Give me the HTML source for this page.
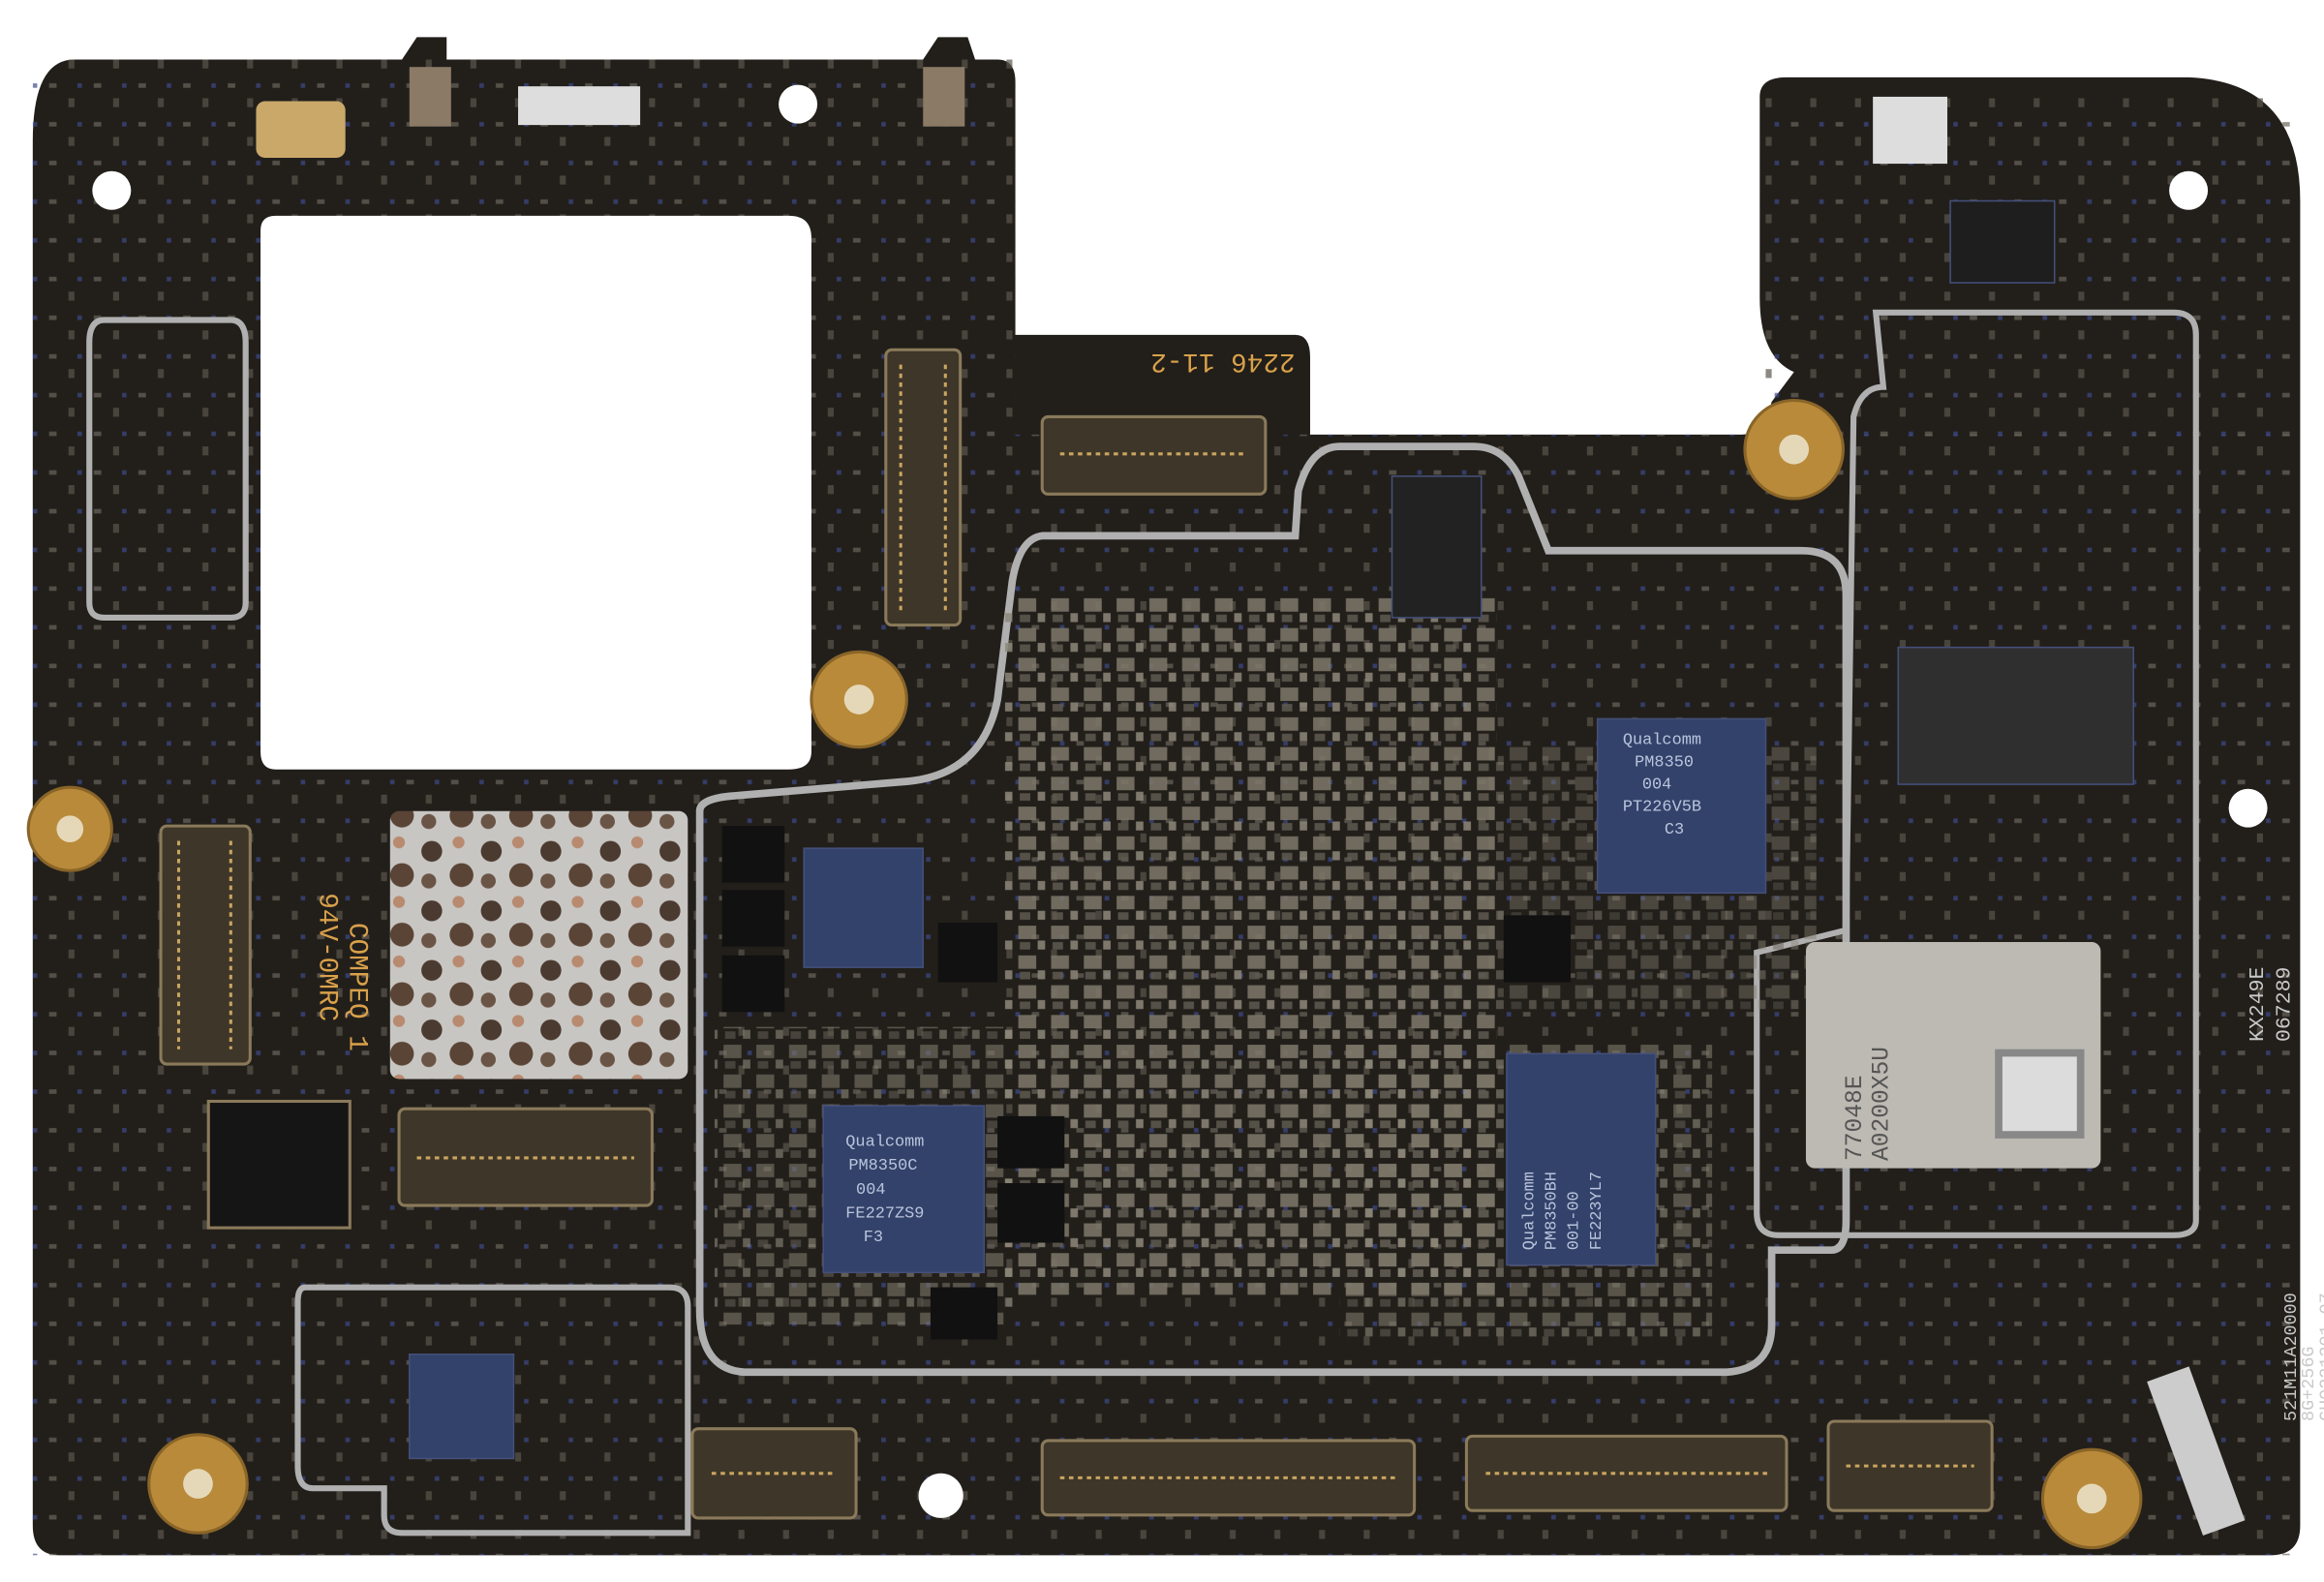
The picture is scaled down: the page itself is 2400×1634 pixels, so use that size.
<!DOCTYPE html>
<html><head><meta charset="utf-8"><style>html,body{margin:0;padding:0;background:#fff;width:2400px;height:1634px;overflow:hidden}svg{display:block}</style></head>
<body>
<svg width="2400" height="1634" viewBox="0 0 1561 1063" preserveAspectRatio="none" xmlns="http://www.w3.org/2000/svg" font-family="Liberation Mono, monospace">
<defs>
<pattern id="comp" width="22" height="20" patternUnits="userSpaceOnUse">
<rect x="2" y="2" width="12" height="9" fill="#7e786a"/><rect x="15" y="12" width="5" height="6" fill="#8e887a"/><rect x="3" y="13" width="7" height="5" fill="#5f5a50"/>
</pattern>
<pattern id="small" width="30" height="26" patternUnits="userSpaceOnUse">
<rect x="3" y="4" width="5" height="3" fill="#6a655c"/><rect x="16" y="14" width="4" height="6" fill="#5a554c"/><rect x="22" y="4" width="3" height="3" fill="#3d4a8a"/>
</pattern>
<pattern id="mottle" width="40" height="40" patternUnits="userSpaceOnUse">
<rect width="40" height="40" fill="#c8c6c2"/><circle cx="10" cy="12" r="7" fill="#4a3a30"/><circle cx="30" cy="28" r="8" fill="#5a4436"/><circle cx="28" cy="6" r="4" fill="#b88a70"/><circle cx="8" cy="32" r="5" fill="#6a5446"/>
</pattern>
</defs>
<rect width="1561" height="1063" fill="#fff"/>
<path d="M50,40 L270,40 L280,25 L300,25 L300,40 L620,40 L630,25 L650,25 L655,40 L670,40 Q682,40 682,55 L682,225 L870,225 Q880,225 880,240 L880,292 L1170,292 Q1185,292 1190,270 L1205,250 Q1182,240 1182,200 L1182,65 Q1182,52 1200,52 L1470,52 Q1545,55 1545,135 L1545,1025 Q1545,1045 1525,1045 L40,1045 Q22,1045 22,1025 L22,95 Q22,40 50,40 Z" fill="#221f1b"/>
<rect x="22" y="40" width="660" height="1005" fill="url(#small)" opacity="0.7"/>
<rect x="682" y="292" width="863" height="753" fill="url(#small)" opacity="0.7"/>
<rect x="1182" y="60" width="363" height="240" fill="url(#small)" opacity="0.7"/>
<path d="M185,145 L530,145 Q545,145 545,160 L545,505 Q545,517 530,517 L185,517 Q175,517 175,505 L175,155 Q175,145 185,145 Z" fill="#fff"/>
<g fill="none" stroke="#b0b0b0" stroke-width="5">
<path d="M470,545 L470,880 Q470,920 500,922 L1160,922 Q1190,920 1190,890 L1190,840 L1230,840 Q1240,840 1240,820 L1240,400 Q1240,370 1210,370 L1040,370 L1020,320 Q1010,300 990,300 L900,300 Q880,300 872,330 L870,360 L700,360 Q685,362 680,390 L670,470 Q660,520 610,525 L490,535 Q470,537 470,545 Z"/>
<path d="M1260,210 L1460,210 Q1475,210 1475,225 L1475,820 Q1475,830 1460,830 L1195,830 Q1180,830 1180,815 L1180,640 L1240,625 L1245,280 Q1250,260 1265,260 Z" stroke-width="4"/>
<path d="M205,865 L450,865 Q462,865 462,878 L462,1030 L270,1030 Q258,1030 258,1018 L258,1000 L210,1000 Q200,1000 200,985 L200,875 Q200,865 205,865 Z" stroke-width="4"/>
<path d="M70,215 L155,215 Q165,215 165,230 L165,405 Q165,415 155,415 L70,415 Q60,415 60,405 L60,230 Q60,215 70,215 Z" stroke-width="4"/>
</g>
<rect x="675" y="400" width="330" height="470" fill="url(#comp)" opacity="0.85"/>
<rect x="480" y="690" width="200" height="200" fill="url(#comp)" opacity="0.6"/>
<rect x="900" y="700" width="250" height="200" fill="url(#comp)" opacity="0.6"/>
<rect x="1000" y="500" width="220" height="180" fill="url(#comp)" opacity="0.45"/>
<rect x="262" y="545" width="200" height="180" rx="6" fill="url(#mottle)"/>
<g fill="#111"><rect x="485" y="555" width="42" height="38"/><rect x="485" y="598" width="42" height="38"/><rect x="485" y="642" width="42" height="38"/><rect x="630" y="620" width="40" height="40"/><rect x="670" y="750" width="45" height="35"/><rect x="670" y="795" width="45" height="40"/><rect x="625" y="865" width="45" height="35"/><rect x="1010" y="615" width="45" height="45"/></g>
<g fill="#33426a" stroke="#44507a">
<rect x="540" y="570" width="80" height="80"/>
<rect x="553" y="743" width="108" height="112"/>
<rect x="1073" y="483" width="113" height="117"/>
<rect x="1012" y="708" width="100" height="142"/>
<rect x="275" y="910" width="70" height="70"/>
<rect x="935" y="320" width="60" height="95" fill="#222"/>
<rect x="1275" y="435" width="158" height="92" fill="#2f2f2f"/>
<rect x="1310" y="135" width="70" height="55" fill="#1e1e1e"/>
</g>
<g fill="#b9c4dd" font-size="11">
<text x="1090" y="500">Qualcomm</text><text x="1098" y="515">PM8350</text><text x="1103" y="530">004</text><text x="1090" y="545">PT226V5B</text><text x="1118" y="560">C3</text>
<text x="568" y="770">Qualcomm</text><text x="570" y="786">PM8350C</text><text x="575" y="802">004</text><text x="568" y="818">FE227ZS9</text><text x="580" y="834">F3</text>
<g transform="translate(1030,840) rotate(-90)"><text x="0" y="0">Qualcomm</text><text x="0" y="15">PM8350BH</text><text x="0" y="30">001-00</text><text x="0" y="45">FE223YL7</text></g>
</g>
<rect x="1213" y="633" width="198" height="152" rx="6" fill="#bdbab3"/>
<rect x="1340" y="705" width="60" height="60" fill="#888"/><rect x="1345" y="710" width="50" height="50" fill="#dcdcdc"/>
<g transform="translate(1250,780) rotate(-90)" fill="#555" font-size="16"><text>77048E</text><text y="18">A0200X5U</text></g>
<g fill="#3e3628" stroke="#8a7a5a" stroke-width="2">
<rect x="595" y="235" width="50" height="185" rx="4"/>
<rect x="700" y="280" width="150" height="52" rx="4"/>
<rect x="108" y="555" width="60" height="160" rx="4"/>
<rect x="268" y="745" width="170" height="65" rx="4"/>
<rect x="465" y="960" width="110" height="60" rx="4"/>
<rect x="700" y="968" width="250" height="50" rx="4"/>
<rect x="985" y="965" width="215" height="50" rx="4"/>
<rect x="1228" y="955" width="110" height="60" rx="4"/>
<rect x="140" y="740" width="95" height="85" fill="#151515"/>
</g>
<g stroke="#c9a560" stroke-width="2"><path d="M605,245 V410 M635,245 V410" stroke-dasharray="3 3"/><path d="M712,305 H838 M478,990 H562 M712,993 H938 M998,990 H1188 M1240,985 H1326 M120,565 V705 M155,565 V705 M280,778 H426" stroke-dasharray="3 3"/></g>
<g fill="#b88a3a" stroke="#8a6528" stroke-width="2">
<circle cx="577" cy="470" r="32"/><circle cx="1205" cy="302" r="33"/><circle cx="47" cy="557" r="28"/><circle cx="133" cy="997" r="33"/><circle cx="1405" cy="1007" r="33"/>
</g>
<g fill="#e5d8b8"><circle cx="577" cy="470" r="10"/><circle cx="1205" cy="302" r="10"/><circle cx="47" cy="557" r="9"/><circle cx="133" cy="997" r="10"/><circle cx="1405" cy="1007" r="10"/></g>
<g fill="#fff"><circle cx="75" cy="128" r="13"/><circle cx="536" cy="70" r="13"/><circle cx="1470" cy="128" r="13"/><circle cx="1510" cy="543" r="13"/><circle cx="632" cy="1005" r="15"/></g>
<rect x="172" y="68" width="60" height="38" rx="6" fill="#c9a86a"/>
<rect x="348" y="58" width="82" height="26" fill="#ddd"/>
<rect x="275" y="45" width="28" height="40" fill="#8a7a66"/><rect x="620" y="45" width="28" height="40" fill="#8a7a66"/>
<rect x="1258" y="65" width="50" height="45" fill="#ddd"/>
<g fill="#d9a14a" font-size="18">
<text transform="translate(870,238) rotate(180)">2246 11-2</text>
<g transform="translate(215,600) rotate(90)"><text>94V-0MRC</text><text x="20" y="-20">COMPEQ 1</text></g>
</g>
<g fill="#c9c9c9" font-size="14">
<g transform="translate(1520,700) rotate(-90)"><text>KX249E</text><text y="18">067289</text></g>
<g transform="translate(1542,955) rotate(-90)" font-size="12"><text>521M11A20000</text><text y="12">8G+256G</text><text y="24">GH0221201-07</text></g>
</g>
<rect x="1460" y="920" width="30" height="110" fill="#ccc" transform="rotate(-20 1475 975)"/>
</svg>
</body></html>
